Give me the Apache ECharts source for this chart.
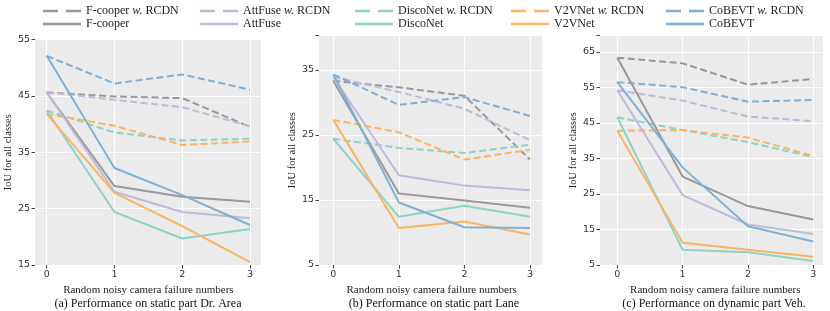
<!DOCTYPE html>
<html><head><meta charset="utf-8">
<script src="https://cdn.jsdelivr.net/npm/echarts@6/dist/echarts.min.js"></script>
<style>html,body{margin:0;padding:0;background:#fff}#c{width:830px;height:311px}</style>
</head><body><div id="c"></div>
<script>
// x categories: number of failed cameras
const failures = [0, 1, 2, 3];
const methods = ['F-cooper', 'AttFuse', 'DiscoNet', 'V2VNet', 'CoBEVT'];
const rcdnSuffix = ' w. RCDN';
const subtitles = ['(a) Performance on static part Dr. Area', '(b) Performance on static part Lane', '(c) Performance on dynamic part Veh.'];
const yTicksA = [15, 25, 35, 45, 55];
const yTicksB = [5, 15, 25, 35];
const yTicksC = [5, 15, 25, 35, 45, 55, 65];

// (a) Dr. Area
const areaFcooperRCDN = [45.6, 44.9, 44.6, 39.5];
const areaAttFuseRCDN = [45.7, 44.3, 43.0, 39.6];
const areaDiscoNetRCDN = [42.4, 38.5, 37.1, 37.4];
const areaV2VNetRCDN = [41.8, 39.7, 36.3, 36.9];
const areaCoBEVTRCDN = [52.1, 47.2, 48.8, 46.1];
const areaFcooper = [45.6, 29.0, 27.1, 26.2];
const areaAttFuse = [45.6, 28.0, 24.4, 23.3];
const areaDiscoNet = [42.4, 24.4, 19.7, 21.4];
const areaV2VNet = [41.8, 27.8, 21.9, 15.5];
const areaCoBEVT = [52.1, 32.2, 27.4, 22.1];
// (b) Lane
const laneFcooperRCDN = [33.3, 32.3, 31.0, 21.2];
const laneAttFuseRCDN = [33.9, 31.6, 29.0, 24.2];
const laneDiscoNetRCDN = [24.4, 23.0, 22.2, 23.5];
const laneV2VNetRCDN = [27.3, 25.4, 21.2, 22.7];
const laneCoBEVTRCDN = [34.3, 29.6, 30.8, 27.9];
const laneFcooper = [33.3, 16.0, 14.9, 13.8];
const laneAttFuse = [33.9, 18.8, 17.2, 16.5];
const laneDiscoNet = [24.4, 12.4, 14.1, 12.4];
const laneV2VNet = [27.3, 10.7, 11.7, 9.7];
const laneCoBEVT = [34.3, 14.6, 10.8, 10.7];
// (c) Veh.
const vehFcooperRCDN = [63.4, 61.8, 55.8, 57.4];
const vehAttFuseRCDN = [54.2, 51.3, 46.8, 45.5];
const vehDiscoNetRCDN = [46.6, 43.0, 39.6, 35.4];
const vehV2VNetRCDN = [42.8, 43.0, 40.9, 35.7];
const vehCoBEVTRCDN = [56.5, 55.1, 51.0, 51.5];
const vehFcooper = [63.4, 29.9, 21.6, 17.8];
const vehAttFuse = [54.2, 24.7, 16.4, 13.7];
const vehDiscoNet = [46.6, 9.3, 8.6, 6.1];
const vehV2VNet = [42.8, 11.3, 9.3, 7.3];
const vehCoBEVT = [56.5, 32.5, 15.9, 11.6];

const colors = ['#999999', '#bebada', '#8dd3c7', '#fdb462', '#80b1d3'];
const SERIF = '"Liberation Serif","Times New Roman",serif';
const SANS = '"DejaVu Sans",sans-serif';

const panels = [
  { rcdn: [areaFcooperRCDN, areaAttFuseRCDN, areaDiscoNetRCDN, areaV2VNetRCDN, areaCoBEVTRCDN],
    base: [areaFcooper, areaAttFuse, areaDiscoNet, areaV2VNet, areaCoBEVT],
    ticks: yTicksA, ymax: 55, nameGap: 19,
    bg: {left: 35, right: 569, top: 39.5, bottom: 46},
    data: {left: 46.7, right: 580, top: 39.5, bottom: 46}, titleX: 143 },
  { rcdn: [laneFcooperRCDN, laneAttFuseRCDN, laneDiscoNetRCDN, laneV2VNetRCDN, laneCoBEVTRCDN],
    base: [laneFcooper, laneAttFuse, laneDiscoNet, laneV2VNet, laneCoBEVT],
    ticks: yTicksB, ymax: 40.3, nameGap: 17,
    bg: {left: 319, right: 288, top: 35.3, bottom: 46},
    data: {left: 333.3, right: 300, top: 35.3, bottom: 46}, titleX: 429 },
  { rcdn: [vehFcooperRCDN, vehAttFuseRCDN, vehDiscoNetRCDN, vehV2VNetRCDN, vehCoBEVTRCDN],
    base: [vehFcooper, vehAttFuse, vehDiscoNet, vehV2VNet, vehCoBEVT],
    ticks: yTicksC, ymax: 69.7, nameGap: 20,
    bg: {left: 600, right: 7, top: 35.3, bottom: 46},
    data: {left: 617.3, right: 16.7, top: 35.3, bottom: 46}, titleX: 709 }
];

const grid = [], xAxis = [], yAxis = [], series = [], title = [];
panels.forEach((p, i) => {
  const gb = i * 2, gd = i * 2 + 1;
  const ymin = p.ticks[0];
  const interval = p.ticks[1] - p.ticks[0];
  grid.push(Object.assign({show: true, backgroundColor: '#ebebeb', borderWidth: 0, containLabel: false}, p.bg));
  grid.push(Object.assign({show: false, containLabel: false}, p.data));
  xAxis.push({type: 'value', gridIndex: gb, min: 0, max: 1, show: false});
  yAxis.push({type: 'value', gridIndex: gb, min: ymin, max: p.ymax, interval: interval,
    name: 'IoU for all classes', nameLocation: 'middle', nameGap: p.nameGap,
    nameTextStyle: {fontFamily: SERIF, fontSize: 10.5, color: '#222'},
    axisLine: {show: false},
    axisTick: {show: true, length: 3.5, lineStyle: {color: '#444', width: 1}},
    axisLabel: {fontFamily: SANS, fontSize: 9.5, color: '#333', margin: 5,
      formatter: v => (p.ticks.indexOf(Math.round(v * 10) / 10) >= 0 ? String(v) : '')},
    splitLine: {show: true, lineStyle: {color: '#ffffff', width: 1}}});
  xAxis.push({type: 'value', gridIndex: gd, min: failures[0], max: failures[failures.length - 1], interval: 1,
    name: 'Random noisy camera failure numbers', nameLocation: 'middle', nameGap: 15,
    nameTextStyle: {fontFamily: SERIF, fontSize: 11, color: '#222'},
    axisLine: {show: false},
    axisTick: {show: true, length: 3.5, lineStyle: {color: '#444', width: 1}},
    axisLabel: {fontFamily: SANS, fontSize: 9.5, color: '#333', margin: 5},
    splitLine: {show: true, lineStyle: {color: '#ffffff', width: 1}}});
  yAxis.push({type: 'value', gridIndex: gd, min: ymin, max: p.ymax, show: false});
  methods.forEach((m, k) => {
    series.push({type: 'line', name: m + rcdnSuffix, xAxisIndex: gd, yAxisIndex: gd,
      symbol: 'none', silent: true, animation: false, z: 2,
      lineStyle: {color: colors[k], width: 2, type: [7, 3.5]}, itemStyle: {color: colors[k]},
      data: failures.map((x, j) => [x, p.rcdn[k][j]])});
  });
  methods.forEach((m, k) => {
    series.push({type: 'line', name: m, xAxisIndex: gd, yAxisIndex: gd,
      symbol: 'none', silent: true, animation: false, z: 3,
      lineStyle: {color: colors[k], width: 2, type: 'solid'}, itemStyle: {color: colors[k]},
      data: failures.map((x, j) => [x, p.base[k][j]])});
  });
  title.push({text: subtitles[i], left: p.titleX, top: 293, textAlign: 'center',
    textStyle: {fontFamily: SERIF, fontSize: 12, fontWeight: 'normal', color: '#111'}});
});

const dashedIcon = 'path://M0,0H15V2.7H0ZM23,0H38V2.7H23Z';
const solidIcon = 'path://M0,0H38V2.7H0Z';
const legendX = [38, 195, 350, 506, 661];
const legend = methods.map((m, k) => ({
  orient: 'vertical', left: legendX[k], top: 0, itemWidth: 38, itemHeight: 2.7, itemGap: 1,
  selectedMode: false,
  textStyle: {fontFamily: SERIF, fontSize: 12, color: '#222', rich: {i: {fontFamily: SERIF, fontSize: 12, fontStyle: 'italic', color: '#222'}}},
  formatter: name => name.replace(' w. ', ' {i|w.} '),
  data: [
    {name: m + rcdnSuffix, icon: dashedIcon, itemStyle: {color: colors[k], borderWidth: 0}},
    {name: m, icon: solidIcon, itemStyle: {color: colors[k], borderWidth: 0}}
  ]
}));

const chart = echarts.init(document.getElementById('c'), null, {renderer: 'canvas'});
chart.setOption({animation: false, color: colors, grid, xAxis, yAxis, series, title, legend});
</script></body></html>
